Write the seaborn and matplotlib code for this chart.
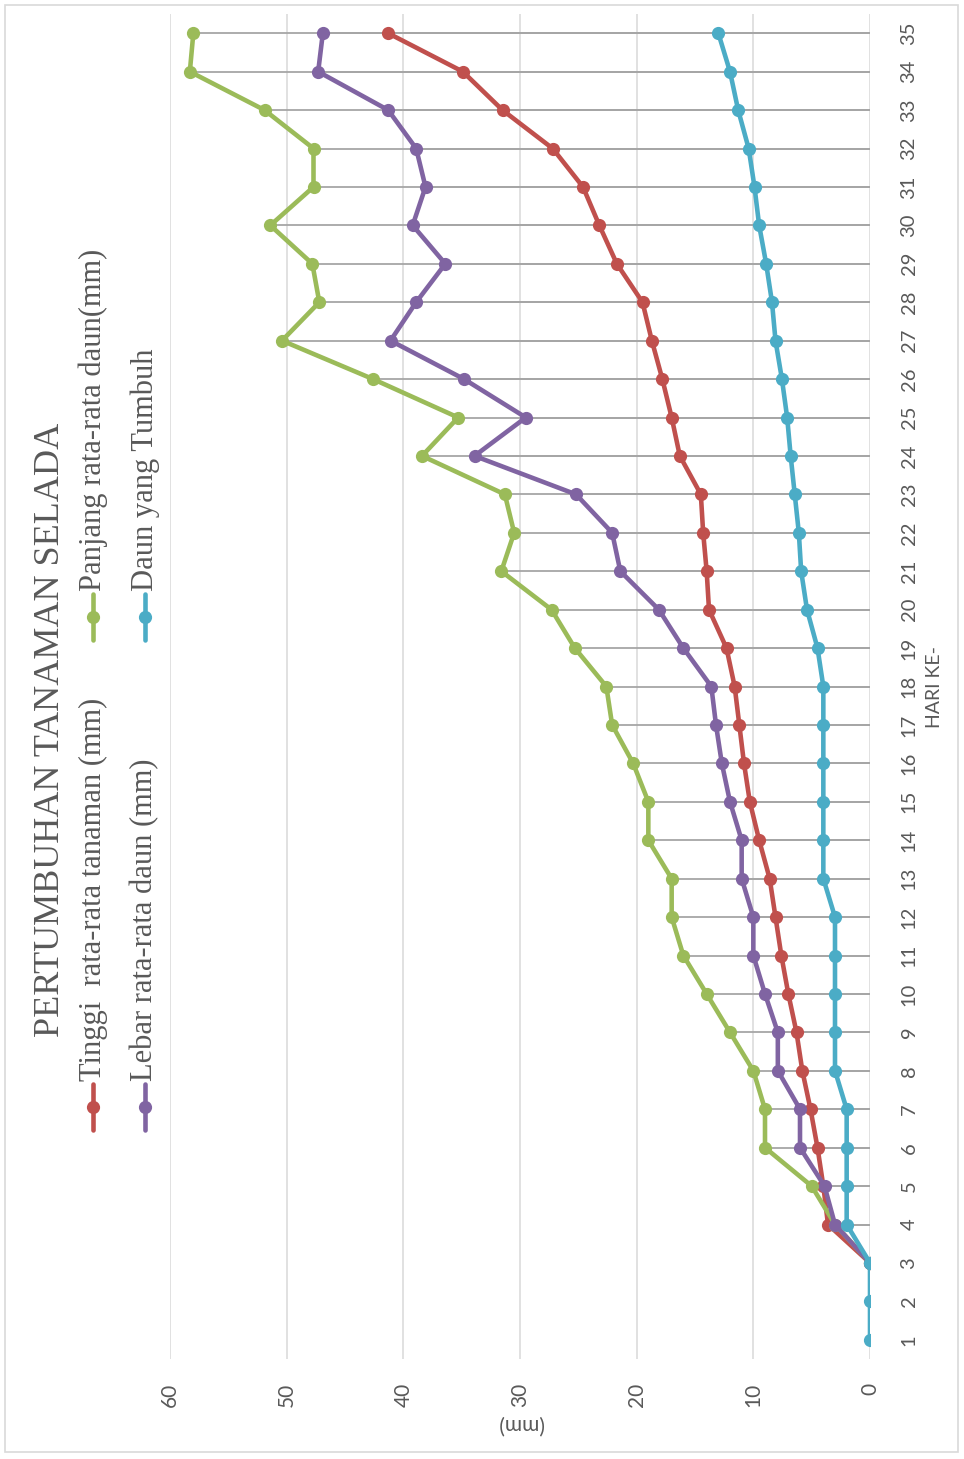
import numpy as np
import pandas as pd
import matplotlib
matplotlib.use("Agg")
import matplotlib.pyplot as plt
from matplotlib.lines import Line2D
from matplotlib.patches import Rectangle
import seaborn as sns

# ---- data -------------------------------------------------------------
days = list(range(1, 36))
nan = np.nan
tinggi = [nan, nan, 0, 3.6, 4.0, 4.5, 5.1, 5.8, 6.3, 7.0, 7.6, 8.1, 8.6, 9.5,
          10.3, 10.8, 11.2, 11.6, 12.3, 13.8, 14.0, 14.3, 14.5, 16.3, 17.0,
          17.8, 18.7, 19.5, 21.7, 23.2, 24.6, 27.2, 31.5, 34.9, 41.3]
panjang = [nan, nan, 0, 3.0, 5.0, 9.0, 9.0, 10.0, 12.0, 14.0, 16.0, 17.0,
           17.0, 19.0, 19.0, 20.3, 22.1, 22.6, 25.3, 27.3, 31.6, 30.5, 31.3,
           38.4, 35.3, 42.6, 50.4, 47.2, 47.8, 51.4, 47.7, 47.7, 51.9, 58.3, 58.0]
lebar = [nan, nan, 0, 3.0, 3.9, 6.0, 6.0, 7.9, 7.9, 9.0, 10.0, 10.0, 11.0,
         11.0, 12.0, 12.7, 13.2, 13.6, 16.0, 18.1, 21.4, 22.1, 25.2, 33.9,
         29.5, 34.8, 41.1, 38.9, 36.4, 39.2, 38.1, 38.9, 41.3, 47.3, 46.9]
daun = [0, 0, 0, 2, 2, 2, 2, 3, 3, 3, 3, 3, 4, 4, 4, 4, 4, 4, 4.5, 5.4, 5.9,
        6.1, 6.45, 6.8, 7.1, 7.55, 8.1, 8.4, 8.9, 9.5, 9.9, 10.4, 11.3, 12.0, 13.0]

series_names = ["Tinggi  rata-rata tanaman (mm)", "Panjang rata-rata daun(mm)",
                "Lebar rata-rata daun (mm)", "Daun yang Tumbuh"]
series_values = [tinggi, panjang, lebar, daun]
series_colors = ["#C0504D", "#9BBB59", "#8064A2", "#4BACC6"]

title = "PERTUMBUHAN TANAMAN SELADA"
value_label = "(mm)"
day_label = "HARI KE-"
value_ticks = [0, 10, 20, 30, 40, 50, 60]

# ---- style ------------------------------------------------------------
sns.set_theme(style="white")
plt.rcParams["font.family"] = ["Lato", "DejaVu Sans"]
TXT = "#595959"
SERIF = ["Liberation Serif", "DejaVu Serif"]
LW = 3.3
MS = 9.5

W, H = 964, 1459
fig = plt.figure(figsize=(W / 100, H / 100), dpi=100)
fig.patch.set_facecolor("white")


def fx(px):
    return px / W


def fy(py):
    return 1 - py / H


# outer chart border
fig.patches.append(Rectangle((fx(5), fy(1452)), fx(953), (1447) / H,
                             transform=fig.transFigure, fill=False,
                             edgecolor="#D9D9D9", linewidth=1.2))

# plot area (chart turned a quarter: value axis runs right-to-left, days upward)
ax = fig.add_axes([fx(170), fy(1359), fx(700), (1359 - 14) / H])
ax.set_facecolor("white")

# drop lines from each point to the category axis
for vals in series_values:
    ax.hlines(days, 0, np.nan_to_num(vals), colors="#A6A6A6",
              linewidth=1.3, zorder=1)

for name, vals, col in zip(series_names, series_values, series_colors):
    d = pd.DataFrame({"day": days, "val": vals}).dropna()
    sns.lineplot(data=d, x="val", y="day", sort=False, estimator=None, ax=ax,
                 color=col, linewidth=LW, marker="o", markersize=MS,
                 markeredgewidth=0, zorder=3, legend=False)

ax.set_xlim(60, 0)
ax.set_ylim(0.5, 35.5)
ax.set_xticks(value_ticks)
ax.grid(axis="x", color="#D9D9D9", linewidth=1.1, zorder=0)
ax.grid(axis="y", visible=False)
for s in ax.spines.values():
    s.set_visible(False)

ax.set_yticks(days)
ax.yaxis.tick_right()
ax.set_yticklabels([str(d) for d in days], rotation=90, va="center",
                   ha="left", fontsize=14.5, color=TXT)
ax.tick_params(axis="y", length=0, pad=22)
ax.set_xticklabels([str(v) for v in value_ticks], rotation=90, fontsize=15,
                   color=TXT, va="top", ha="center")
ax.tick_params(axis="x", length=0, pad=17)

ax.set_xlabel(value_label, rotation=180, fontsize=15, color=TXT, labelpad=5)
ax.yaxis.set_label_position("right")
ax.set_ylabel(day_label, rotation=90, fontsize=14, color=TXT, labelpad=6)

# title and legend, set along the left edge
fig.text(fx(51), fy(730), title, rotation=90, ha="center", va="center",
         fontsize=26, color=TXT, family=SERIF)

legend_pos = [(93, 1107), (93, 617), (145, 1107), (145, 617)]
for (lx, ly), i in zip(legend_pos, range(4)):
    fig.lines.append(Line2D([fx(lx), fx(lx)], [fy(ly + 23), fy(ly - 23)],
                            transform=fig.transFigure, color=series_colors[i],
                            linewidth=LW))
    fig.lines.append(Line2D([fx(lx)], [fy(ly)], transform=fig.transFigure,
                            color=series_colors[i], marker="o", markersize=MS,
                            markeredgewidth=0, linestyle="none"))
    fig.text(fx(lx), fy(ly - 26), series_names[i], rotation=90, ha="center",
             va="bottom", fontsize=22, color=TXT, family=SERIF)

fig.savefig("out.png", dpi=100, facecolor="white")
